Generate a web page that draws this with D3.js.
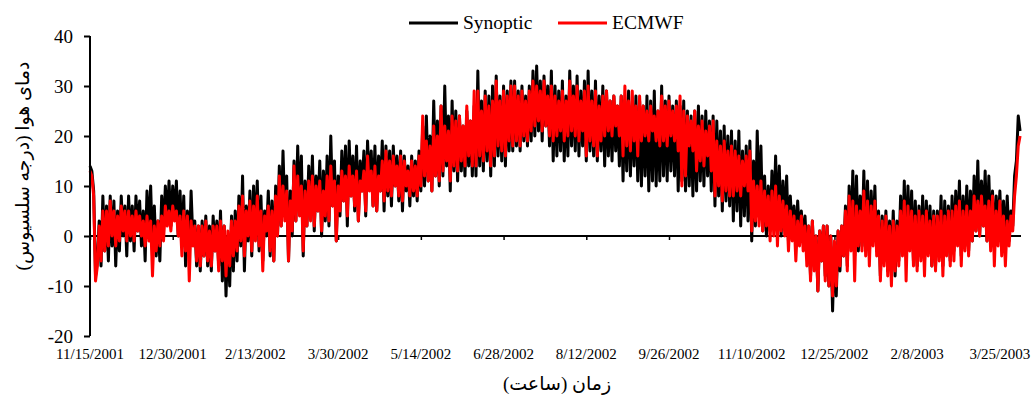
<!DOCTYPE html>
<html>
<head>
<meta charset="utf-8">
<script src="https://cdn.jsdelivr.net/npm/d3@7"></script>
<style>
  body { margin: 0; background: #fff; }
  text { font-family: "Liberation Serif", "Times New Roman", serif; fill: #000; }
  .faTitle { font-family: "Times New Roman", "DejaVu Serif", "DejaVu Sans", serif; }
</style>
</head>
<body>
<svg id="svg-temp" width="1031" height="396"></svg>
<script>
// Data (one value per day)
var startDate = "11/15/2001";
var tickLabels = ["11/15/2001", "12/30/2001", "2/13/2002", "3/30/2002", "5/14/2002", "6/28/2002",
                  "8/12/2002", "9/26/2002", "11/10/2002", "12/25/2002", "2/8/2003", "3/25/2003"];
var yTicks = [-20, -10, 0, 10, 20, 30, 40];
var seriesNames = ["Synoptic", "ECMWF"];
var seriesColors = ["#000000", "#ff0000"];
var yTitle = "دمای هوا (درجه سلسیوس)";
var xTitle = "زمان (ساعت)";

var data_synoptic = [
  14, 13, 9, -8, -5, 3, -6, 8, -3, 6,   -5, 8, -2, 7, -6, 5, -3, 8, 0, 6,
  -4, 8, -1, 6, -3, 8, 1, 7, -2, 5,     -5, 9, 0, 10, -3, 6, -4, 3, -5, 8,
  1, 10, 3, 11, 2, 10, 4, 11, 0, 9,     -2, 8, -6, 5, -4, 9, -1, 3, -6, 2,
  -7, 3, -4, 4, -6, 2, -7, 4, -3, 3,    -6, 5, -9, 2, -12, 0, -10, 4, -7, 5,
  -5, 8, -2, 12, -7, 6, -1, 9, -4, 10,  0, 11, -3, 8, -5, 5, 0, 9, -4, 7,
  -5, 10, 0, 14, 2, 17, 4, 12, -5, 9,   0, 15, 3, 18, 5, 16, -4, 11, 2, 14,
  4, 16, 1, 12, 5, 15, 0, 13, 3, 16,    2, 20, 6, 15, -1, 12, 4, 17, 7, 18,
  2, 19, 8, 16, 5, 18, 3, 15, 9, 17,    4, 19, 10, 17, 6, 18, 5, 16, 9, 19,
  5, 18, 8, 17, 6, 18, 10, 16, 7, 17,   5, 16, 9, 14, 6, 16, 8, 15, 7, 17,
  9, 22, 10, 24, 11, 20, 9, 27, 12, 23, 10, 26, 12, 30, 14, 24, 9, 27, 13, 25,
  11, 24, 13, 22, 12, 25, 14, 23, 12, 26, 12, 33, 14, 27, 13, 29, 15, 28, 12, 30,
  14, 32, 16, 28, 15, 30, 14, 29, 17, 31, 17, 31, 18, 29, 17, 30, 19, 28, 18, 30,
  19, 33, 20, 34, 21, 31, 19, 32, 22, 30, 18, 33, 15, 30, 16, 29, 17, 31, 15, 28,
  16, 33, 18, 30, 17, 32, 16, 29, 18, 31, 15, 33, 17, 29, 16, 31, 15, 28, 17, 30,
  14, 29, 16, 27, 15, 28, 17, 26, 14, 28, 11, 27, 13, 29, 12, 26, 14, 28, 11, 27,
  10, 26, 12, 28, 9, 27, 11, 29, 10, 25,  11, 30, 12, 27, 11, 28, 13, 26, 12, 27,
  9, 26, 11, 27, 9, 25, 10, 24, 8, 25,    9, 26, 11, 24, 10, 25, 12, 23, 9, 24,
  6, 23, 8, 21, 5, 22, 7, 20, 6, 21,      3, 19, 5, 21, 2, 17, 4, 18, 3, 19,
  -1, 15, 2, 21, 4, 18, 1, 12, 0, 10,     1, 13, 3, 16, 2, 14, 0, 11, 2, 12,
  -1, 8, 1, 6, -1, 7, 0, 5, -1, 4,        -4, 2, -8, 3, -6, 0, -11, 1, -5, 2,
  -8, 2, -10, 0, -15, -2, -12, 1, -7, 2,  -4, 6, -6, 10, -2, 13, -4, 12, -3, 8,
  -2, 13, -3, 11, -4, 9, -1, 10, -3, 5,   -8, 4, -5, 5, -7, 3, -6, 5, -8, 3,
  -5, 8, -3, 11, -4, 10, -2, 9, -5, 7,    -6, 6, -4, 8, -5, 7, -3, 6, -6, 5,
  -6, 5, -4, 8, -6, 7, -3, 6, -5, 8,      -3, 9, -1, 11, -4, 8, -2, 10, -3, 9,
  -1, 12, 1, 15, 0, 11, 2, 13, -1, 12,    0, 9, -2, 8, 1, 9, -1, 7, -2, 8,
  -1, 5, 2, 12, 15, 24, 21
];

var data_ecmwf = [
  13, 12, 8, -9, -6, 2, -5, 5, -3, 5,   -2, 7, 0, 5, -2, 4, -1, 6, 1, 5,
  -1, 5, 0, 4, -1, 5, 1, 4, 0, 3,       -2, 4, -1, 3, -8, 2, -3, 3, -2, 4,
  -1, 6, 2, 5, 1, 6, 3, 5, 0, 4,        -4, 5, -3, 4, -9, 3, -2, 2, -5, 2,
  -6, 2, -4, 3, -5, 1, -6, 2, -3, 2,    -7, 3, -5, 2, -8, 1, -6, 3, -4, 3,
  -3, 6, -1, 8, -4, 5, 0, 7, -3, 6,     -1, 8, -2, 5, -7, 4, 1, 6, -3, 5,
  -5, 8, 0, 12, 2, 10, 3, 9, -5, 7,     1, 14, 3, 12, 4, 10, -3, 9, 2, 11,
  3, 12, 2, 10, 5, 11, 1, 9, 4, 12,     3, 14, 6, 11, -1, 10, 5, 13, 7, 12,
  4, 14, 8, 12, 6, 13, 3, 11, 9, 13,    5, 16, 9, 13, 6, 14, 5, 12, 9, 15,
  7, 17, 9, 15, 8, 16, 10, 14, 8, 16,   7, 15, 10, 13, 8, 15, 9, 14, 8, 16,
  10, 24, 12, 19, 11, 18, 9, 22, 12, 20, 11, 26, 13, 22, 15, 21, 11, 24, 14, 23,
  13, 24, 15, 22, 14, 26, 16, 23, 14, 29, 14, 29, 16, 25, 15, 28, 17, 26, 14, 27,
  16, 31, 18, 27, 17, 29, 16, 28, 19, 30, 18, 30, 19, 28, 18, 29, 20, 27, 19, 29,
  21, 31, 22, 30, 23, 29, 21, 31, 22, 28, 20, 30, 19, 28, 20, 27, 21, 29, 19, 27,
  20, 31, 21, 28, 20, 30, 19, 27, 21, 29, 16, 30, 19, 27, 18, 29, 16, 26, 19, 28,
  20, 29, 21, 27, 20, 28, 22, 26, 20, 28, 16, 30, 18, 27, 17, 29, 19, 26, 16, 28,
  19, 26, 20, 25, 19, 26, 21, 24, 19, 25, 18, 28, 19, 26, 18, 27, 20, 25, 19, 26,
  17, 28, 10, 25, 12, 24, 18, 23, 17, 25, 13, 22, 15, 23, 14, 21, 16, 22, 13, 23,
  8, 19, 10, 18, 7, 19, 9, 17, 8, 18,     8, 17, 9, 16, 8, 15, 10, 16, 9, 17,
  1, 11, 3, 10, 2, 11, 1, 9, 2, 8,        -1, 9, 0, 10, -2, 8, 1, 7, 0, 6,
  -3, 5, -1, 4, -5, 3, -2, 4, -3, 2,      -6, 2, -9, 3, -7, 0, -11, 1, -5, 2,
  -9, 2, -10, 0, -12, -1, -10, 1, -6, 2,  -4, 5, -7, 8, -3, 7, -9, 6, -2, 5,
  -3, 9, -4, 7, -6, 6, -2, 7, -4, 4,      -9, 3, -6, 4, -8, 2, -10, 3, -7, 2,
  -6, 5, -4, 7, -9, 6, -3, 5, -6, 4,      -7, 5, -5, 4, -8, 5, -4, 3, -6, 4,
  -7, 4, -5, 5, -8, 4, -4, 5, -6, 5,      -5, 6, -2, 7, -6, 5, -3, 6, -4, 5,
  -1, 8, 1, 7, 0, 8, 2, 6, -1, 7,         -3, 8, -6, 5, -2, 7, -4, 4, -6, 3,
  -2, 4, 1, 8, 12, 18, 20
];

function init() {
  var svg = d3.select("#svg-temp");
  var parseDate = d3.utcParse("%m/%d/%Y");
  var formatDate = d3.utcFormat("%-m/%-d/%Y");
  var dayMs = 24 * 3600 * 1000;
  var t0 = parseDate(startDate);

  // Plot area
  var left = 90, right = 1021, top = 36, bottom = 336;

  var x = d3.scaleUtc()
            .domain([t0, new Date(t0.getTime() + 506.5 * dayMs)])
            .range([left, right]);
  var y = d3.scaleLinear().domain([-20, 40]).range([bottom, top]);

  var tickDates = tickLabels.map(parseDate);

  // zero line with ticks (x axis crosses at 0), drawn under the data
  var xAxis = d3.axisBottom(x)
                .tickValues(tickDates)
                .tickSize(4)
                .tickFormat("");
  var gx = svg.append("g")
              .attr("transform", "translate(0," + y(0) + ")")
              .call(xAxis);
  gx.select(".domain").attr("stroke", "#000").attr("stroke-width", 2).attr("d", "M" + left + ",0H" + right);
  gx.selectAll(".tick line").attr("stroke", "#000").attr("stroke-width", 1.5);

  // series -> points
  function toPoints(arr) {
    return arr.map(function(v, i) { return {date: new Date(t0.getTime() + i * dayMs), value: v}; });
  }
  var series = [toPoints(data_synoptic), toPoints(data_ecmwf)];

  var line = d3.line()
               .x(function(d) { return x(d.date); })
               .y(function(d) { return y(d.value); });

  series.forEach(function(s, i) {
    svg.append("path")
       .datum(s)
       .attr("d", line)
       .attr("fill", "none")
       .attr("stroke", seriesColors[i])
       .attr("stroke-width", 3)
       .attr("stroke-linejoin", "round");
  });

  // x tick labels at the bottom
  svg.selectAll("text.xlab")
     .data(tickDates)
     .enter()
     .append("text")
     .attr("class", "xlab")
     .attr("x", function(d) { return x(d); })
     .attr("y", 359)
     .attr("text-anchor", "middle")
     .style("font-size", "15px")
     .text(function(d) { return formatDate(d); });

  // y axis
  var yAxis = d3.axisLeft(y)
                .tickValues(yTicks)
                .tickSize(6)
                .tickPadding(11)
                .tickFormat(function(d) { return String(d); });
  var gy = svg.append("g")
              .attr("transform", "translate(" + left + ",0)")
              .call(yAxis);
  gy.select(".domain").attr("stroke", "#000").attr("stroke-width", 2).attr("d", "M0," + top + "V" + bottom);
  gy.selectAll(".tick line").attr("stroke", "#000").attr("stroke-width", 2);
  gy.selectAll(".tick text")
    .style("font-family", "'Liberation Serif', 'Times New Roman', serif")
    .style("font-size", "19px")
    .attr("fill", "#000");

  // axis titles
  svg.append("text")
     .attr("class", "faTitle")
     .attr("transform", "translate(29,166) rotate(-90)")
     .attr("text-anchor", "middle")
     .attr("direction", "rtl")
     .style("font-size", "19px")
     .text(yTitle);
  svg.append("text")
     .attr("class", "faTitle")
     .attr("x", 557)
     .attr("y", 390)
     .attr("text-anchor", "middle")
     .attr("direction", "rtl")
     .style("font-size", "19px")
     .text(xTitle);

  // legend
  var legendX = [409, 558];
  var legend = svg.selectAll("g.legend")
                  .data(seriesNames)
                  .enter()
                  .append("g")
                  .attr("class", "legend")
                  .attr("transform", function(d, i) { return "translate(" + legendX[i] + ",23)"; });
  legend.append("line")
        .attr("x1", 0).attr("x2", 49)
        .attr("stroke", function(d, i) { return seriesColors[i]; })
        .attr("stroke-width", 3);
  legend.append("text")
        .attr("x", 54)
        .attr("y", 6)
        .style("font-size", "19.5px")
        .text(function(d) { return d; });
}; // end init

init();
</script>
</body>
</html>
